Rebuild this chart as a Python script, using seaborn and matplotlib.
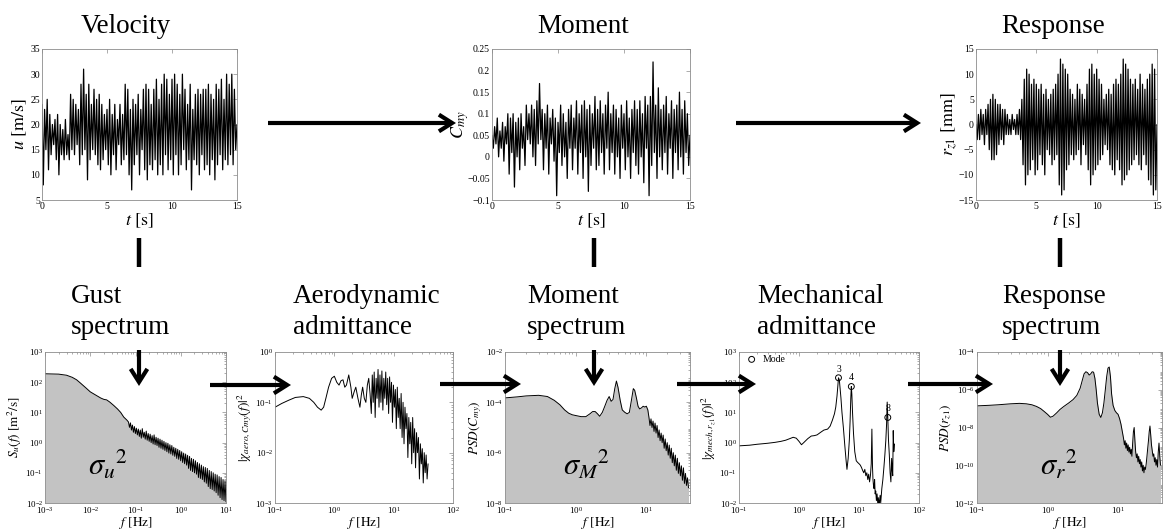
import numpy as np
import pandas as pd
import seaborn as sns
import matplotlib
matplotlib.use("Agg")
import matplotlib.pyplot as plt
from matplotlib.patches import FancyArrowPatch
from matplotlib.ticker import FuncFormatter

sns.set_theme(style="white")
plt.rcParams["font.family"] = ["Liberation Serif", "DejaVu Serif"]
plt.rcParams["mathtext.fontset"] = "stix"
for k in ["text.color", "axes.labelcolor", "xtick.color", "ytick.color"]:
    plt.rcParams[k] = "black"

# ---------------- time series (t = 0..15 s, 0.1 s step) ----------------
t = np.linspace(0, 15, 151)
velocity = [24, 8, 23, 15, 25, 11, 22, 14, 20, 16,
            21, 13, 22, 10, 20, 14, 19, 13, 21, 14,
            18, 13, 26, 15, 25, 14, 24, 16, 23, 12,
            28, 14, 31, 15, 26, 9, 28, 13, 24, 15,
            27, 14, 25, 12, 26, 11, 24, 13, 22, 15,
            23, 12, 25, 10, 22, 14, 24, 11, 21, 16,
            24, 12, 22, 13, 28, 14, 27, 10, 23, 7,
            25, 12, 24, 14, 26, 10, 23, 15, 27, 11,
            28, 9, 27, 12, 24, 11, 27, 13, 29, 10,
            25, 12, 28, 10, 30, 14, 29, 11, 26, 13,
            29, 10, 30, 14, 28, 10, 26, 12, 30, 15,
            27, 11, 24, 13, 28, 7, 23, 13, 26, 12,
            27, 10, 26, 14, 27, 11, 27, 12, 28, 10,
            26, 13, 25, 9, 28, 12, 27, 14, 29, 11,
            25, 13, 30, 12, 28, 14, 30, 12, 27, 15, 20]
moment = [0.05, 0.02, 0.07, 0.03, 0.09, 0.0, 0.06, 0.02, 0.08, -0.01,
          0.07, 0.03, 0.10, -0.04, 0.09, 0.01, 0.10, -0.07, 0.08, 0.0,
          0.09, -0.03, 0.10, 0.02, 0.07, -0.02, 0.12, 0.04, 0.10, 0.03,
          0.12, 0.0, 0.11, -0.02, 0.13, 0.03, 0.17, 0.04, 0.11, -0.03,
          0.10, 0.02, 0.12, -0.04, 0.09, 0.03, 0.11, -0.01, 0.09, -0.09,
          0.08, 0.01, 0.12, -0.02, 0.10, 0.0, 0.08, -0.05, 0.11, 0.02,
          0.12, -0.03, 0.09, 0.02, 0.13, -0.04, 0.10, 0.01, 0.12, -0.05,
          0.13, 0.0, 0.11, -0.08, 0.12, -0.02, 0.10, 0.02, 0.14, -0.03,
          0.11, -0.02, 0.13, 0.01, 0.10, -0.04, 0.12, 0.02, 0.15, -0.03,
          0.10, 0.01, 0.12, -0.04, 0.11, 0.0, 0.09, -0.05, 0.12, 0.02,
          0.10, -0.03, 0.13, 0.0, 0.09, -0.05, 0.11, 0.01, 0.13, -0.02,
          0.11, -0.04, 0.13, 0.0, 0.10, -0.06, 0.14, 0.02, 0.12, -0.09,
          0.14, -0.02, 0.22, 0.01, 0.12, -0.05, 0.16, 0.0, 0.11, -0.03,
          0.12, 0.01, 0.14, -0.04, 0.10, 0.02, 0.13, -0.05, 0.11, 0.01,
          0.12, -0.03, 0.15, 0.0, 0.11, -0.04, 0.13, 0.01, 0.10, -0.02, 0.05]
response = [0, -3, 2, -3, 3, -2, 2, -4, 3, -2,
            4, -5, 5, -7, 6, -7, 5, -6, 4, -4,
            4, -3, 3, -4, 3, -2, 2, -2, 1, -2,
            2, -1, 1, -2, 2, -2, 3, -3, 5, -8,
            9, -12, 11, -10, 10, -9, 8, -7, 9, -10,
            8, -9, 7, -6, 8, -8, 6, -10, 7, -5,
            5, -6, 6, -8, 7, -7, 8, -6, 10, -12,
            13, -14, 12, -13, 11, -9, 10, -8, 7, -6,
            6, -7, 5, -6, 8, -5, 7, -8, 6, -4,
            5, -6, 8, -9, 11, -12, 12, -10, 10, -9,
            11, -8, 9, -7, 8, -6, 5, -4, 6, -5,
            7, -8, 6, -9, 8, -10, 9, -7, 8, -9,
            10, -12, 13, -11, 12, -10, 11, -9, 9, -8,
            8, -7, 9, -6, 7, -8, 10, -9, 8, -6,
            7, -8, 9, -11, 10, -12, 12, -14, 11, -13, 0]

# ---------------- gust spectrum ----------------
gust_f_low = [0.001, 0.002, 0.003, 0.004, 0.005, 0.006, 0.008, 0.01, 0.013,
              0.017, 0.02, 0.023, 0.027, 0.033, 0.04, 0.047, 0.055, 0.065]
gust_s_low = [190, 185, 170, 145, 120, 95, 65, 48, 38, 30, 27, 26, 22, 17,
              13, 10, 7, 5.5]
gust_f_high = np.geomspace(0.07, 10, 100)
gust_s_high = [4.8, 3.2, 4.5, 2.6, 3.8, 2.2, 3.4, 2.0, 3.0, 1.8,
               2.8, 1.6, 2.6, 1.4, 2.9, 1.5, 2.2, 1.3, 2.4, 1.2,
               2.0, 1.1, 1.9, 1.0, 1.7, 0.9, 1.8, 0.85, 1.5, 0.8,
               1.4, 0.7, 1.3, 0.65, 1.2, 0.6, 1.1, 0.55, 1.0, 0.5,
               0.95, 0.45, 0.85, 0.42, 0.8, 0.38, 0.7, 0.35, 0.65, 0.3,
               0.6, 0.28, 0.55, 0.25, 0.5, 0.22, 0.45, 0.2, 0.42, 0.18,
               0.38, 0.14, 0.35, 0.12, 0.3, 0.11, 0.28, 0.1, 0.25, 0.09,
               0.22, 0.07, 0.2, 0.065, 0.18, 0.06, 0.16, 0.05, 0.15, 0.045,
               0.14, 0.035, 0.12, 0.03, 0.11, 0.028, 0.1, 0.025, 0.09, 0.022,
               0.085, 0.018, 0.075, 0.015, 0.07, 0.013, 0.06, 0.012, 0.055, 0.011]

# ---------------- aerodynamic admittance ----------------
aero_f_low = [0.1, 0.13, 0.17, 0.22, 0.3, 0.38, 0.45, 0.52, 0.6, 0.66,
              0.72, 0.8, 0.9, 1.0, 1.1, 1.2, 1.3, 1.4, 1.5, 1.6,
              1.75, 1.9, 2.0, 2.15, 2.3, 2.5, 2.7, 2.85, 3.0, 3.2,
              3.4, 3.6, 3.8, 4.0]
aero_x_low = [0.08, 0.095, 0.11, 0.125, 0.13, 0.12, 0.1, 0.08, 0.07, 0.08,
              0.12, 0.2, 0.3, 0.33, 0.25, 0.22, 0.27, 0.28, 0.2, 0.22,
              0.35, 0.2, 0.12, 0.16, 0.2, 0.12, 0.08, 0.14, 0.2, 0.12,
              0.1, 0.22, 0.3, 0.15]
aero_f_high = np.geomspace(4.2, 38, 60)
aero_x_high = [0.06, 0.35, 0.1, 0.4, 0.05, 0.3, 0.12, 0.45, 0.08, 0.35,
               0.1, 0.42, 0.07, 0.3, 0.12, 0.4, 0.09,
               0.3, 0.06, 0.32, 0.1, 0.25, 0.04, 0.22, 0.08, 0.18, 0.03,
               0.2, 0.05, 0.12, 0.03, 0.15, 0.02,
               0.1, 0.015, 0.08, 0.03, 0.06, 0.008, 0.05, 0.015, 0.04, 0.006,
               0.05, 0.01,
               0.03, 0.005, 0.025, 0.01, 0.02, 0.003, 0.015, 0.006, 0.012,
               0.0025, 0.01, 0.004, 0.009, 0.003, 0.006]

# ---------------- moment spectrum ----------------
mom_f_low = [0.1, 0.15, 0.2, 0.3, 0.4, 0.5, 0.6, 0.7, 0.8, 0.9,
             1.0, 1.2, 1.4, 1.6, 1.75, 1.9, 2.05, 2.2, 2.4, 2.6,
             2.8, 3.0, 3.2, 3.4, 3.6, 3.8, 4.0, 4.3, 4.6, 5.0,
             5.4, 5.8, 6.2, 6.6, 6.9, 7.3, 7.7, 8.1, 8.6, 9.1,
             9.6, 10.1, 10.6]
mom_p_low = [1.5e-4, 1.65e-4, 1.8e-4, 1.9e-4, 1.7e-4, 1.2e-4, 8e-5, 5e-5, 3.7e-5, 3.2e-5,
             3.0e-5, 2.7e-5, 2.7e-5, 3.5e-5, 4.3e-5, 4.3e-5, 3.5e-5, 2.8e-5, 4e-5, 7e-5,
             1.2e-4, 1.7e-4, 1.1e-4, 1.3e-4, 3.5e-4, 7e-4, 4e-4, 1.2e-4, 5e-5, 4e-5,
             3.5e-5, 4e-5, 1.2e-4, 3.5e-4, 3e-4, 1.5e-4, 7e-5, 5.5e-5, 6e-5, 7e-5,
             6.5e-5, 7e-5, 5e-5]
mom_f_high = np.geomspace(11, 40, 40)
mom_p_high = [2.5e-5, 1.2e-5, 2.2e-5, 1.0e-5, 1.8e-5, 7e-6, 1.5e-5, 6e-6, 1.2e-5, 4e-6,
              8e-6, 3e-6, 6e-6, 2.5e-6, 5e-6, 1.5e-6, 3.5e-6, 1.2e-6, 2.5e-6, 8e-7,
              2e-6, 6e-7, 1.5e-6, 4e-7, 1.0e-6, 3e-7, 8e-7, 2e-7, 6e-7, 1.5e-7,
              4e-7, 1.2e-7, 3e-7, 8e-8, 2.5e-7, 6e-8, 1.5e-7, 5e-8, 1e-7, 4e-8]

# ---------------- mechanical admittance ----------------
mech_f = [0.1, 0.15, 0.2, 0.3, 0.4, 0.5, 0.6, 0.7, 0.8, 0.9,
          1.0, 1.1, 1.2, 1.4, 1.6, 1.8, 2.0, 2.3, 2.6, 3.0,
          3.3, 3.6, 3.9, 4.1, 4.3, 4.45, 4.55, 4.7, 4.85, 5.0,
          5.2, 5.5, 5.8, 6.1, 6.3, 6.6, 6.9, 7.1, 7.3, 7.45,
          7.6, 7.8, 8.1, 8.5, 9.0, 9.5, 10, 10.5, 11, 11.5,
          12, 12.5, 13, 13.5, 14, 14.5, 15, 15.5, 16, 16.4,
          16.8, 17.1, 17.4, 17.8, 18.2, 18.6, 19, 19.5, 20, 20.5,
          21, 21.5, 22, 22.5, 23, 24, 25, 26, 27, 28,
          28.8, 29.5, 30.2, 31, 32, 33, 34, 35, 35.8, 36.5,
          37.2, 38, 39]
mech_x = [0.78, 0.82, 0.88, 0.95, 1.02, 1.1, 1.2, 1.35, 1.5, 1.4,
          1.1, 0.85, 1.0, 1.35, 1.65, 1.7, 1.8, 2.2, 2.6, 2.8,
          3.5, 5.5, 9, 15, 35, 80, 140, 120, 60, 30,
          10, 3, 0.8, 0.25, 0.13, 0.3, 1.2, 5, 30, 72,
          40, 10, 2, 0.5, 0.25, 0.22, 0.2, 0.18, 0.15, 0.12,
          0.1, 0.13, 0.08, 0.1, 0.06, 0.09, 0.05, 0.08, 0.2, 2.8,
          0.15, 0.06, 0.04, 0.03, 0.06, 0.02, 0.025, 0.012, 0.02, 0.01,
          0.015, 0.009, 0.012, 0.018, 0.01, 0.03, 0.06, 0.15, 0.4, 1.2,
          4, 22, 6.8, 1.2, 0.4, 0.1, 0.05, 0.3, 0.12, 0.08,
          2.5, 0.5, 0.9]
mode_f = [4.55, 7.45, 30.2]
mode_x = [140, 72, 6.8]
mode_labels = ["3", "4", "8"]

# ---------------- response spectrum ----------------
resp_f_low = [0.1, 0.15, 0.2, 0.3, 0.4, 0.5, 0.6, 0.7, 0.8, 0.9,
              1.0, 1.1, 1.2, 1.35, 1.5, 1.7, 2.0, 2.3, 2.6, 2.9,
              3.1, 3.3, 3.5, 3.7, 3.9, 4.1, 4.3, 4.5, 4.7, 4.9,
              5.1, 5.4, 5.7, 6.0, 6.3, 6.6, 6.9, 7.2, 7.5, 7.8,
              8.1, 8.5, 9.0, 9.5, 10, 10.5, 11, 11.5]
resp_p_low = [1.4e-7, 1.5e-7, 1.6e-7, 1.8e-7, 1.9e-7, 1.8e-7, 1.6e-7, 1.3e-7, 1.0e-7, 7e-8,
              5e-8, 3.5e-8, 4e-8, 6e-8, 9e-8, 1.3e-7, 2e-7, 3e-7, 5e-7, 1.2e-6,
              3e-6, 7e-6, 9e-6, 8e-6, 6e-6, 7e-6, 9e-6, 8.5e-6, 4e-6, 1e-6,
              2e-7, 5e-8, 3.4e-8, 6e-8, 2e-7, 1e-6, 5e-6, 1.4e-5, 1.6e-5, 5e-6,
              6e-7, 1.5e-7, 8e-8, 6e-8, 5e-8, 3e-8, 1.5e-8, 6e-9]
resp_f_high = np.geomspace(12, 40, 50)
resp_p_high = [2.5e-9, 1.2e-9, 2e-9, 8e-10, 1.5e-9, 6e-10, 1.2e-9, 5e-10, 9e-10, 4e-10,
               7e-10, 3e-10, 1.5e-9, 6e-9, 1e-8, 2e-9, 5e-10, 2.5e-10, 4e-10, 1.5e-10,
               3e-10, 1.2e-10, 2e-10, 8e-11, 1.5e-10, 5e-11, 1e-10, 4e-11, 8e-11, 6e-11,
               1.2e-10, 3e-10, 8e-10, 2e-9, 6e-9, 1.2e-8, 4e-9, 1.2e-9, 6e-10, 3e-10,
               4e-10, 1.5e-10, 2.5e-10, 1e-10, 2e-10, 8e-11, 5e-10, 1.5e-9, 3e-10, 1e-10]

# =====================================================================
W, H = 1166, 532
fig = plt.figure(figsize=(W / 100, H / 100), dpi=100)
fig.patch.set_facecolor("white")


def px_axes(x0, y0, x1, y1):
    return fig.add_axes([x0 / W, 1 - y1 / H, (x1 - x0) / W, (y1 - y0) / H])


def style(ax, size):
    for s in ax.spines.values():
        s.set_color("#8c8c8c")
        s.set_linewidth(0.6)
    ax.tick_params(which="both", direction="in", top=True, right=True,
                   color="#8c8c8c", labelcolor="black", labelsize=size,
                   pad=1.5, length=3, width=0.5)
    ax.tick_params(which="minor", length=1.5)


gfmt = FuncFormatter(lambda v, p: f"{v:g}".replace("-", "\u2212"))


def time_plot(box, y, ylim, yticks, ylabel, label_x):
    ax = px_axes(*box)
    sns.lineplot(x=t, y=y, ax=ax, color="black", lw=0.9, estimator=None, sort=False)
    ax.set_xlim(0, 15)
    ax.set_ylim(*ylim)
    ax.set_xticks([0, 5, 10, 15])
    ax.set_yticks(yticks)
    ax.yaxis.set_major_formatter(gfmt)
    ax.set_xlabel(r"$t\ [\mathrm{s}]$", fontsize=13, labelpad=0)
    ax.set_ylabel(ylabel, fontsize=13)
    w = box[2] - box[0]
    ax.yaxis.set_label_coords((label_x - box[0]) / w, 0.5)
    style(ax, 7)
    return ax


time_plot((42, 49, 237, 200), velocity, (5, 35), [5, 10, 15, 20, 25, 30, 35],
          r"$u\ [\mathrm{m/s}]$", 29)
time_plot((492, 49, 690, 200), moment, (-0.1, 0.25),
          [-0.1, -0.05, 0, 0.05, 0.1, 0.15, 0.2, 0.25], r"$C_{my}$", 471)
time_plot((976, 49, 1157, 200), response, (-15, 15), [-15, -10, -5, 0, 5, 10, 15],
          r"$r_{z1}\ [\mathrm{mm}]$", 960)


def spec_plot(box, f, v, fill, xlim, xticks, ylim, yticks, ylabel):
    ax = px_axes(*box)
    if fill:
        ax.fill_between(f, v, ylim[0], color="#c3c3c3", lw=0)
    sns.lineplot(x=f, y=v, ax=ax, color="black", lw=0.7, estimator=None, sort=False)
    ax.set_xscale("log")
    ax.set_yscale("log")
    ax.set_xlim(*xlim)
    ax.set_ylim(*ylim)
    ax.set_xticks(xticks)
    ax.set_yticks(yticks)
    ax.set_xlabel(r"$f\ [\mathrm{Hz}]$", fontsize=9.5, labelpad=-1)
    ax.set_ylabel(ylabel, fontsize=9.5, labelpad=1)
    style(ax, 6.5)
    return ax


spec_plot((45, 352, 226, 503), np.concatenate([gust_f_low, gust_f_high]),
          np.concatenate([gust_s_low, gust_s_high]), True,
          (1e-3, 1e1), [1e-3, 1e-2, 1e-1, 1e0, 1e1],
          (1e-2, 1e3), [1e-2, 1e-1, 1e0, 1e1, 1e2, 1e3],
          r"$S_u(f)\ [\mathrm{m^2/s}]$")
spec_plot((275, 352, 453, 503), np.concatenate([aero_f_low, aero_f_high]),
          np.concatenate([aero_x_low, aero_x_high]), False,
          (1e-1, 1e2), [1e-1, 1e0, 1e1, 1e2],
          (1e-3, 1e0), [1e-3, 1e-2, 1e-1, 1e0],
          r"$|\chi_{aero,Cmy}(f)|^2$")
spec_plot((505, 352, 690, 503), np.concatenate([mom_f_low, mom_f_high]),
          np.concatenate([mom_p_low, mom_p_high]), True,
          (1e-1, 42), [1e-1, 1e0, 1e1],
          (1e-8, 1e-2), [1e-8, 1e-6, 1e-4, 1e-2],
          r"$PSD(C_{my})$")
axm = spec_plot((739, 352, 919, 503), mech_f, mech_x, False,
                (1e-1, 1e2), [1e-1, 1e0, 1e1, 1e2],
                (1e-2, 1e3), [1e-2, 1e-1, 1e0, 1e1, 1e2, 1e3],
                r"$|\chi_{mech,r_{z1}}(f)|^2$")
sns.scatterplot(x=mode_f, y=mode_x, ax=axm, marker="o", s=18,
                facecolors="none", edgecolors="black", linewidth=0.7,
                label="Mode", zorder=5)
for fx, vx, lab in zip(mode_f, mode_x, mode_labels):
    axm.annotate(lab, (fx, vx), xytext=(0, 3), textcoords="offset points",
                 ha="center", va="bottom", fontsize=7)
axm.legend(loc="upper left", frameon=False, fontsize=7, handletextpad=0.1,
           borderaxespad=0.1, borderpad=0.2, markerscale=1.0)
spec_plot((977, 352, 1162, 503), np.concatenate([resp_f_low, resp_f_high]),
          np.concatenate([resp_p_low, resp_p_high]), True,
          (1e-1, 42), [1e-1, 1e0, 1e1],
          (1e-12, 1e-4), [1e-12, 1e-10, 1e-8, 1e-6, 1e-4],
          r"$PSD(r_{z1})$")

# ---------------- overlay: titles, arrows, sigma labels ----------------
ov = fig.add_axes([0, 0, 1, 1], zorder=10)
ov.set_xlim(0, W)
ov.set_ylim(H, 0)
ov.axis("off")
ov.patch.set_visible(False)

TF = 19.5
for x, s in [(126, "Velocity"), (583, "Moment"), (1053, "Response")]:
    ov.text(x, 33, s, fontsize=TF, ha="center", va="baseline")
for x, a, b in [(71, "Gust", "spectrum"), (293, "Aerodynamic", "admittance"),
                (527, "Moment", "spectrum"), (757, "Mechanical", "admittance"),
                (1002, "Response", "spectrum")]:
    ov.text(x, 303, a, fontsize=TF, ha="left", va="baseline")
    ov.text(x, 334, b, fontsize=TF, ha="left", va="baseline")

for x, s in [(88, r"$\sigma_u{}^2$"), (563, r"$\sigma_M{}^2$"), (1040, r"$\sigma_r{}^2$")]:
    ov.text(x, 475, s, fontsize=22, ha="left", va="baseline")


def arrow(p0, p1):
    ov.add_patch(FancyArrowPatch(p0, p1, arrowstyle="->,head_length=0.95,head_width=0.6",
                                 mutation_scale=10, lw=3.0, color="black",
                                 shrinkA=0, shrinkB=0, joinstyle="miter",
                                 capstyle="butt"))


def bar(p0, p1):
    ov.plot([p0[0], p1[0]], [p0[1], p1[1]], color="black", lw=3.2, solid_capstyle="butt")


arrow((268, 123), (456, 123))
arrow((736, 123), (921, 123))
for x in (139, 594, 1060):
    bar((x, 238), (x, 267))
    arrow((x, 350), (x, 386))
arrow((210, 385), (291, 385))
arrow((440, 384), (521, 384))
arrow((677, 384), (756, 384))
arrow((908, 384), (993, 384))

fig.savefig("out.png", dpi=100)
